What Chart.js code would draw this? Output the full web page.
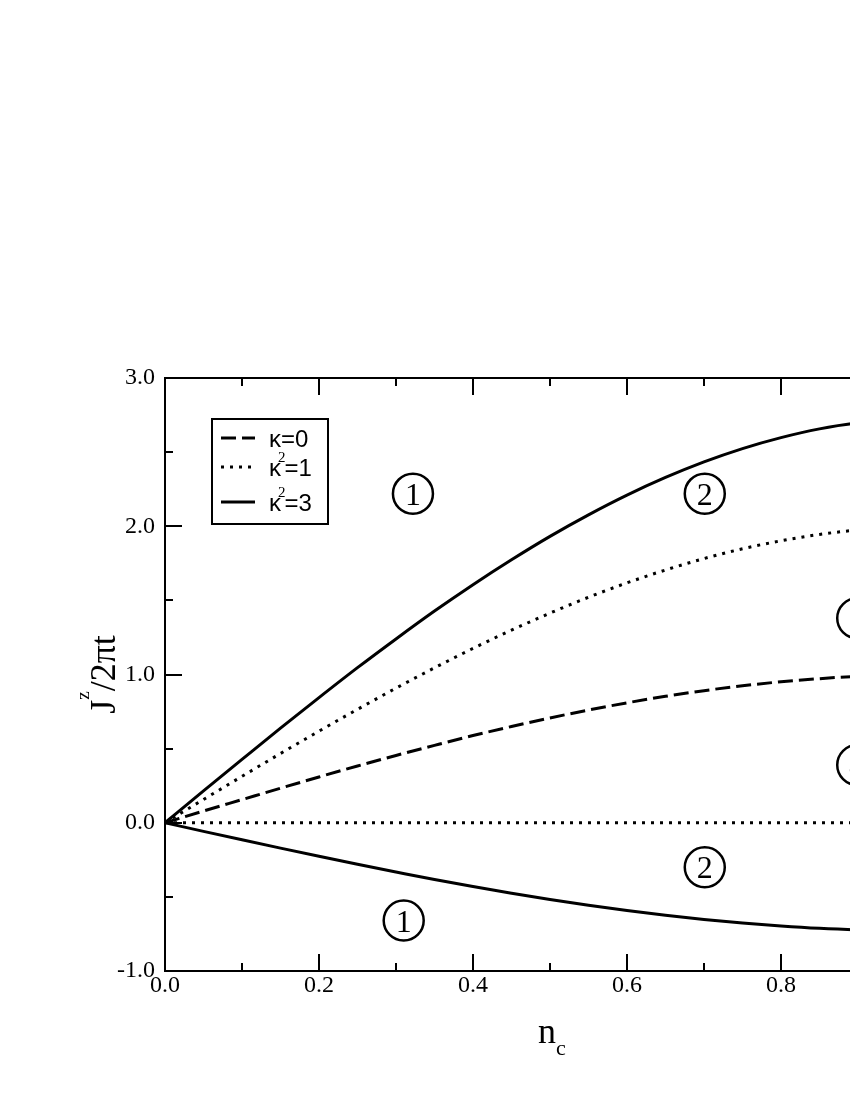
<!DOCTYPE html>
<html>
<head>
<meta charset="utf-8">
<script src="https://cdn.jsdelivr.net/npm/chart.js@4.4.1/dist/chart.umd.min.js"></script>
<style>
html, body { margin:0; padding:0; overflow:hidden; background:#fff; }
#wrap { position:absolute; left:0; top:0; width:1000px; height:1100px; }
canvas { display:block; }
</style>
</head>
<body>
<div id="wrap"><canvas id="c" width="1000" height="1100"></canvas></div>
<script>
// ---- data ----
const nc = [0,0.05,0.1,0.15,0.2,0.25,0.3,0.35,0.4,0.45,0.5,0.55,0.6,0.65,0.7,0.75,0.8,0.85,0.9,0.95,1.0];
const kappa0 = [0,0.079,0.156,0.233,0.309,0.383,0.454,0.522,0.588,0.649,0.707,0.760,0.809,0.853,0.891,0.924,0.951,0.972,0.988,0.997,1.000];
const kappa1Upper = [0,0.157,0.313,0.467,0.618,0.765,0.908,1.045,1.176,1.299,1.414,1.521,1.618,1.705,1.782,1.848,1.902,1.945,1.975,1.994,2.000];
const kappa1Lower = [0,0,0,0,0,0,0,0,0,0,0,0,0,0,0,0,0,0,0,0,0];
const kappa3Upper = [0,0.215,0.427,0.638,0.844,1.046,1.240,1.428,1.606,1.774,1.932,2.077,2.210,2.329,2.434,2.524,2.598,2.657,2.698,2.724,2.732];
const kappa3Lower = [0,-0.058,-0.115,-0.171,-0.226,-0.280,-0.332,-0.383,-0.430,-0.475,-0.518,-0.557,-0.592,-0.624,-0.652,-0.676,-0.696,-0.712,-0.723,-0.730,-0.732];
const regionX = [0.322, 0.701, 0.701, 0.310, 0.899, 0.899];
const regionY = [2.22, 2.22, -0.30, -0.66, 1.38, 0.39];
const regionText = ['1','2','2','1','3','4'];
const xTickStep = 0.2, yTickStep = 1.0;

const SERIF = '"Times New Roman", "Liberation Serif", Tinos, serif';
const SANS = 'Arial, "Liberation Sans", Arimo, sans-serif';

const pts = ys => nc.map((v,i)=>({x:v, y:ys[i]}));
const DASH = [15,6], DOT = [3,6];

const styles = {
  dashed: {borderDash: DASH},
  dotted: {borderDash: DOT},
  solid:  {borderDash: []}
};
const mk = (label, ys, st) => Object.assign({
  label, data: pts(ys), borderColor:'#000', borderWidth:3, pointRadius:0,
  fill:false, cubicInterpolationMode:'monotone'
}, styles[st]);

const datasets = [
  mk('κ=0', kappa0, 'dashed'),
  mk('κ²=1', kappa1Upper, 'dotted'),
  mk('κ²=1 ', kappa1Lower, 'dotted'),
  mk('κ²=3', kappa3Upper, 'solid'),
  mk('κ²=3 ', kappa3Lower, 'solid')
];
const legendItems = [
  {ds:0, base:'κ', sup:'', rest:'=0'},
  {ds:1, base:'κ', sup:'2', rest:'=1'},
  {ds:3, base:'κ', sup:'2', rest:'=3'}
];

const decor = {
  id:'decor',
  afterDraw(chart){
    const {ctx, chartArea:a, scales:{x, y}} = chart;
    ctx.save();
    ctx.strokeStyle = '#000';
    ctx.lineWidth = 2;
    ctx.setLineDash([]);
    ctx.strokeRect(a.left, a.top, a.right-a.left, a.bottom-a.top);
    const line = (x1,y1,x2,y2)=>{ctx.beginPath();ctx.moveTo(x1,y1);ctx.lineTo(x2,y2);ctx.stroke();};
    for (let i=0;i<=10;i++){
      const px = Math.round(x.getPixelForValue(i/10));
      const L = i%2===0 ? 17 : 8;
      line(px, a.bottom, px, a.bottom-L);
      line(px, a.top, px, a.top+L);
    }
    for (let i=0;i<=8;i++){
      const py = Math.round(y.getPixelForValue(-1+i*0.5));
      const L = i%2===0 ? 17 : 8;
      line(a.left, py, a.left+L, py);
      line(a.right, py, a.right-L, py);
    }
    // region labels
    ctx.lineWidth = 2.5;
    for (let i=0;i<regionX.length;i++){
      const px = x.getPixelForValue(regionX[i]);
      const py = y.getPixelForValue(regionY[i]);
      ctx.beginPath(); ctx.arc(px, py, 20, 0, Math.PI*2); ctx.stroke();
      ctx.fillStyle = '#000';
      ctx.font = '32px ' + SERIF;
      ctx.textAlign = 'center'; ctx.textBaseline = 'alphabetic';
      ctx.fillText(regionText[i], px, py+11);
    }
    // legend
    const bx=212, by=419, bw=116, bh=105;
    ctx.lineWidth = 2;
    ctx.strokeRect(bx, by, bw, bh);
    const rows = [438, 467, 502];
    legendItems.forEach((it, k)=>{
      const ds = chart.data.datasets[it.ds];
      ctx.save();
      ctx.lineWidth = ds.borderWidth;
      ctx.setLineDash(ds.borderDash || []);
      line(221, rows[k], 255, rows[k]);
      ctx.restore();
      ctx.fillStyle = '#000';
      ctx.textAlign = 'left'; ctx.textBaseline = 'alphabetic';
      let tx = 269; const base = rows[k] + 9;
      ctx.font = '24px ' + SANS;
      ctx.fillText(it.base, tx, base); tx += ctx.measureText(it.base).width;
      if (it.sup){
        ctx.font = '15px ' + SERIF;
        ctx.fillText(it.sup, tx - 3, base - 14); tx += ctx.measureText(it.sup).width - 4;
      }
      ctx.font = '24px ' + SANS;
      ctx.fillText(it.rest, tx, base);
    });
    // axis titles
    ctx.fillStyle = '#000';
    {
      ctx.font = '36px ' + SERIF;
      const w1 = ctx.measureText('n').width;
      ctx.font = '22px ' + SERIF;
      const w2 = ctx.measureText('c').width;
      const cx = (a.left + a.right)/2;
      let tx = cx - (w1+w2)/2 + 2;
      ctx.textAlign = 'left';
      ctx.font = '36px ' + SERIF;
      ctx.fillText('n', tx, 1043);
      ctx.font = '22px ' + SERIF;
      ctx.fillText('c', tx + w1, 1055);
    }
    {
      ctx.translate(115, (a.top + a.bottom)/2);
      ctx.rotate(-Math.PI/2);
      ctx.font = '36px ' + SERIF;
      const wJ = ctx.measureText('J').width;
      const wR = ctx.measureText('/2πt').width;
      ctx.font = '19px ' + SERIF;
      const wz = ctx.measureText('z').width;
      let tx = -(wJ + wz + wR)/2;
      ctx.textAlign = 'left';
      ctx.font = '36px ' + SERIF;
      ctx.fillText('J', tx, 0); tx += wJ;
      ctx.font = '19px ' + SERIF;
      ctx.fillText('z', tx, -26); tx += wz;
      ctx.font = '36px ' + SERIF;
      ctx.fillText('/2πt', tx, 0);
    }
    ctx.restore();
  }
};

new Chart(document.getElementById('c'), {
  type:'line',
  data:{ datasets },
  options:{
    responsive:false, animation:false, devicePixelRatio:1,
    layout:{ padding:{ top:378, right:65, left:0, bottom:0 } },
    plugins:{ legend:{display:false}, tooltip:{enabled:false} },
    scales:{
      x:{
        type:'linear', min:0, max:1,
        grid:{ display:false, drawTicks:false },
        border:{ display:false },
        ticks:{ stepSize:xTickStep, autoSkip:false, maxRotation:0, padding:0, color:'#000',
          font:{ family:SERIF, size:24 },
          callback:v=>Number(v).toFixed(1) },
        afterFit(s){ s.height = 129; }
      },
      y:{
        type:'linear', min:-1, max:3,
        grid:{ display:false, drawTicks:false },
        border:{ display:false },
        ticks:{ stepSize:yTickStep, autoSkip:false, padding:10, color:'#000',
          font:{ family:SERIF, size:24 },
          callback:v=>Number(v).toFixed(1) },
        afterFit(s){ s.width = 165; }
      }
    }
  },
  plugins:[decor]
});
</script>
</body>
</html>
